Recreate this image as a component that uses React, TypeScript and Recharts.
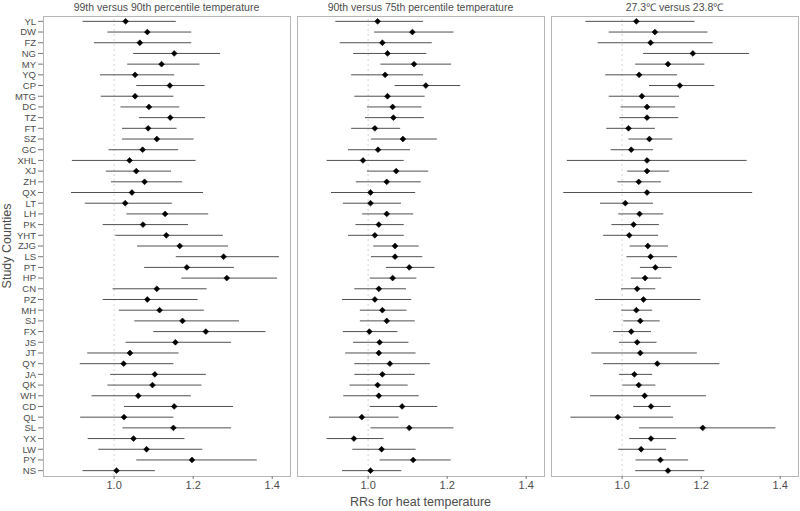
import { ScatterChart, Scatter, XAxis, YAxis, ErrorBar, ReferenceLine } from 'recharts'

const counties = [
  'YL', 'DW', 'FZ', 'NG', 'MY', 'YQ', 'CP', 'MTG', 'DC', 'TZ', 'FT', 'SZ', 'GC', 'XHL',
  'XJ', 'ZH', 'QX', 'LT', 'LH', 'PK', 'YHT', 'ZJG', 'LS', 'PT', 'HP', 'CN', 'PZ', 'MH',
  'SJ', 'FX', 'JS', 'JT', 'QY', 'JA', 'QK', 'WH', 'CD', 'QL', 'SL', 'YX', 'LW', 'PY', 'NS',
]

const panelTitles = [
  '99th versus 90th percentile temperature',
  '90th versus 75th percentile temperature',
  '27.3\u2103 versus 23.8\u2103',
]

const xTicks = [1.0, 1.2, 1.4]

// 99th vs 90th
const rr1 = [1.029, 1.084, 1.065, 1.152, 1.120, 1.053, 1.141, 1.053, 1.088, 1.142, 1.086, 1.108, 1.072, 1.039,
  1.056, 1.077, 1.045, 1.028, 1.129, 1.073, 1.132, 1.166, 1.277, 1.184, 1.285, 1.108, 1.084, 1.115,
  1.173, 1.232, 1.155, 1.040, 1.024, 1.103, 1.097, 1.061, 1.152, 1.025, 1.150, 1.049, 1.082, 1.197, 1.006]
const lo1 = [0.920, 0.983, 0.949, 1.048, 1.033, 0.964, 1.056, 0.966, 1.016, 1.063, 1.020, 1.020, 0.986, 0.893,
  0.979, 0.992, 0.891, 0.926, 1.031, 0.971, 1.003, 1.058, 1.156, 1.076, 1.170, 0.996, 0.971, 1.012,
  1.051, 1.099, 1.029, 0.932, 0.913, 0.990, 0.983, 0.943, 1.025, 0.914, 1.021, 0.933, 0.960, 1.056, 0.920]
const hi1 = [1.156, 1.195, 1.195, 1.268, 1.216, 1.152, 1.229, 1.150, 1.165, 1.230, 1.158, 1.201, 1.162, 1.206,
  1.144, 1.172, 1.225, 1.146, 1.238, 1.187, 1.275, 1.288, 1.417, 1.303, 1.412, 1.234, 1.211, 1.227,
  1.316, 1.383, 1.296, 1.163, 1.150, 1.232, 1.221, 1.194, 1.301, 1.150, 1.296, 1.178, 1.223, 1.361, 1.103]

// 90th vs 75th
const rr2 = [1.024, 1.112, 1.036, 1.049, 1.116, 1.043, 1.146, 1.049, 1.062, 1.064, 1.017, 1.088, 1.025, 0.987,
  1.071, 1.047, 1.006, 1.006, 1.047, 1.027, 1.017, 1.068, 1.068, 1.104, 1.062, 1.027, 1.017, 1.036,
  1.047, 1.003, 1.029, 1.027, 1.055, 1.036, 1.024, 1.027, 1.086, 0.984, 1.104, 0.964, 1.034, 1.114, 1.006]
const lo2 = [0.917, 1.015, 0.928, 0.962, 1.031, 0.957, 1.067, 0.965, 0.997, 0.992, 0.957, 1.007, 0.949, 0.895,
  0.997, 0.969, 0.906, 0.936, 0.985, 0.968, 0.949, 1.013, 1.007, 1.045, 1.004, 0.965, 0.934, 0.979,
  0.979, 0.936, 0.962, 0.942, 0.965, 0.965, 0.953, 0.937, 1.004, 0.901, 1.006, 0.895, 0.960, 1.029, 0.934]
const hi2 = [1.139, 1.216, 1.161, 1.147, 1.210, 1.139, 1.233, 1.143, 1.135, 1.141, 1.081, 1.174, 1.106, 1.090,
  1.152, 1.133, 1.119, 1.083, 1.114, 1.090, 1.090, 1.128, 1.137, 1.168, 1.122, 1.096, 1.109, 1.097,
  1.118, 1.074, 1.102, 1.120, 1.156, 1.118, 1.100, 1.128, 1.175, 1.077, 1.216, 1.039, 1.120, 1.209, 1.084]

// 27.3 vs 23.8
const rr3 = [1.036, 1.083, 1.072, 1.179, 1.116, 1.043, 1.146, 1.050, 1.063, 1.063, 1.016, 1.069, 1.023, 1.063,
  1.063, 1.042, 1.063, 1.008, 1.044, 1.029, 1.018, 1.065, 1.072, 1.084, 1.058, 1.038, 1.054, 1.036,
  1.046, 1.023, 1.038, 1.046, 1.089, 1.031, 1.042, 1.057, 1.073, 0.989, 1.204, 1.073, 1.048, 1.097, 1.116]
const lo3 = [0.907, 0.966, 0.938, 1.053, 1.033, 0.957, 1.068, 0.966, 0.996, 0.993, 0.960, 1.016, 0.971, 0.860,
  1.013, 0.988, 0.851, 0.944, 0.990, 0.973, 0.952, 1.019, 1.011, 1.045, 1.022, 0.997, 0.931, 0.998,
  1.003, 0.977, 0.992, 0.922, 0.952, 0.992, 1.001, 0.919, 1.028, 0.869, 1.043, 1.018, 0.990, 1.034, 1.033]
const hi3 = [1.183, 1.216, 1.229, 1.321, 1.208, 1.139, 1.233, 1.144, 1.134, 1.142, 1.083, 1.127, 1.078, 1.315,
  1.119, 1.098, 1.329, 1.078, 1.104, 1.093, 1.091, 1.116, 1.139, 1.125, 1.099, 1.084, 1.198, 1.076,
  1.095, 1.073, 1.087, 1.189, 1.246, 1.076, 1.084, 1.212, 1.123, 1.129, 1.388, 1.136, 1.111, 1.167, 1.208]

const panels = [
  { rr: rr1, lo: lo1, hi: hi1 },
  { rr: rr2, lo: lo2, hi: hi2 },
  { rr: rr3, lo: lo3, hi: hi3 },
]

const TEXT = '#4d4d4d'
const FONT = '"Liberation Sans", Arial, sans-serif'
const PLOT_TOP = 16
const PLOT_BOTTOM = 476
const PLOT_W = 247
const PLOT_LEFT = [43, 297, 551]

function Diamond(props: any) {
  const { cx, cy } = props
  const r = 2.9
  return <polygon points={`${cx},${cy - r} ${cx + r},${cy} ${cx},${cy + r} ${cx - r},${cy}`} fill="#000" stroke="#000" strokeWidth={0.6} />
}

function Panel({ index }: { index: number }) {
  const p = panels[index]
  const data = counties.map((c, i) => ({
    county: c,
    rr: p.rr[i],
    err: [p.rr[i] - p.lo[i], p.hi[i] - p.rr[i]],
  }))
  const first = index === 0
  const yW = first ? 43 : 0
  return (
    <div style={{ position: 'absolute', left: PLOT_LEFT[index] - yW, top: 0 }}>
      <ScatterChart
        width={PLOT_W + yW}
        height={511}
        margin={{ top: PLOT_TOP, right: 0, bottom: 511 - PLOT_BOTTOM - 30, left: 0 }}
      >
        <XAxis
          type="number"
          dataKey="rr"
          domain={[0.82, 1.445]}
          ticks={xTicks}
          tickFormatter={(v: number) => v.toFixed(1)}
          allowDataOverflow
          axisLine={false}
          tickLine={{ stroke: '#777' }}
          tickSize={3}
          tickMargin={2}
          height={30}
          tick={{ fill: TEXT, fontSize: 11, fontFamily: FONT }}
        />
        <YAxis
          type="category"
          dataKey="county"
          reversed
          hide={!first}
          width={yW}
          interval={0}
          axisLine={false}
          tickLine={{ stroke: '#777' }}
          tickSize={5}
          tickMargin={2}
          tick={{ fill: TEXT, fontSize: 9.5, fontFamily: FONT }}
        />
        <ReferenceLine x={1} stroke="#d4d4d4" strokeDasharray="2 3" />
        <Scatter data={data} shape={Diamond} isAnimationActive={false}>
          <ErrorBar dataKey="err" direction="x" width={0} stroke="#505050" strokeWidth={1} isAnimationActive={false} />
        </Scatter>
      </ScatterChart>
    </div>
  )
}

export default function App() {
  return (
    <div style={{ position: 'absolute', left: 0, top: 0, width: 800, height: 511, background: '#fff', fontFamily: FONT, color: TEXT }}>
      {PLOT_LEFT.map((l, i) => (
        <div key={'b' + i} style={{
          position: 'absolute', left: l, top: PLOT_TOP, width: PLOT_W - 1, height: PLOT_BOTTOM - PLOT_TOP - 1,
          border: '1px solid #b5b5b5', pointerEvents: 'none',
        }} />
      ))}
      {PLOT_LEFT.map((l, i) => (
        <div key={'t' + i} style={{
          position: 'absolute', left: l, top: 0, width: PLOT_W, textAlign: 'center', fontSize: 10.5, lineHeight: '14px',
        }}>
          {panelTitles[i]}
        </div>
      ))}
      {[0, 1, 2].map((i) => <Panel key={i} index={i} />)}
      <div style={{ position: 'absolute', left: 297, top: 494, width: 247, textAlign: 'center', fontSize: 12.5, lineHeight: '16px' }}>
        RRs for heat temperature
      </div>
      <div style={{
        position: 'absolute', left: 7, top: 246, fontSize: 12.5, lineHeight: '16px', whiteSpace: 'nowrap',
        transform: 'translate(-50%, -50%) rotate(-90deg)',
      }}>
        Study Counties
      </div>
    </div>
  )
}
